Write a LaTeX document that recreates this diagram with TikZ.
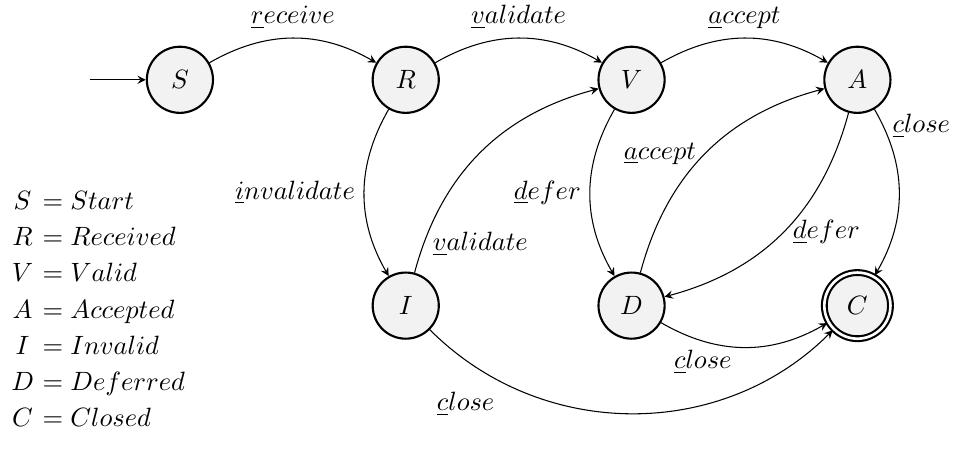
\documentclass[tikz,border=0pt]{standalone}
\usetikzlibrary{automata,positioning,arrows}

\begin{document}
\begin{tikzpicture}[>=stealth,node distance=3cm,on grid,
  every state/.style={draw,thick,fill=gray!10,minimum size=2.5em,inner sep=0pt},
  accepting by double/.append style={double distance=1pt},
  key/.style={inner sep=0pt}]
\useasboundingbox (-2.39,1.06) rectangle (10.31,-4.94);
\node[state] (S) {$S$}; \node[state,right=of S] (R) {$R$}; \node[state,right=of R] (V) {$V$}; \node[state,right=of V] (A) {$A$};
\node[state,below=of R] (I) {$I$}; \node[state,below=of V] (D) {$D$}; \node[state,accepting,below=of A] (C) {$C$};
\coordinate[left=1.2cm of S] (in);
\draw[->] (in) -- (S);
\path[->] (S) edge[bend left] node[above] {$\underline{r}eceive$} (R)
  (R) edge[bend left] node[above] {$\underline{v}alidate$} (V)
  (V) edge[bend left] node[above] {$\underline{a}ccept$} (A)
  (R) edge[bend right] node[left] {$\underline{i}nvalidate$} (I)
  (I) edge[bend left] node[pos=.1,right] {$\underline{v}alidate$} (V)
  (V) edge[bend right] node[left] {$\underline{d}efer$} (D)
  (D) edge[bend left] node[left] {$\underline{a}ccept$} (A)
  (A) edge[bend left] node[right] {$\underline{d}efer$} (D)
  (A) edge[bend left] node[pos=.1,right] {$\underline{c}lose$} (C)
  (D) edge[bend right] node[pos=.25,below] {$\underline{c}lose$} (C)
  (I) edge[bend right=45] node[pos=.2,below left] {$\underline{c}lose$} (C);
\foreach \s/\n [count=\i from 0] in {S/Start,R/Received,V/Valid,A/Accepted,I/Invalid,D/Deferred,C/Closed}{
  \node[key,anchor=base] (k\s) at (-2.09,-1.72-.482*\i) {$\s$};
  \node[key,anchor=base west] (t\s) at (-1.93,-1.72-.482*\i) {${}=\n$};}
\end{tikzpicture}
\end{document}
